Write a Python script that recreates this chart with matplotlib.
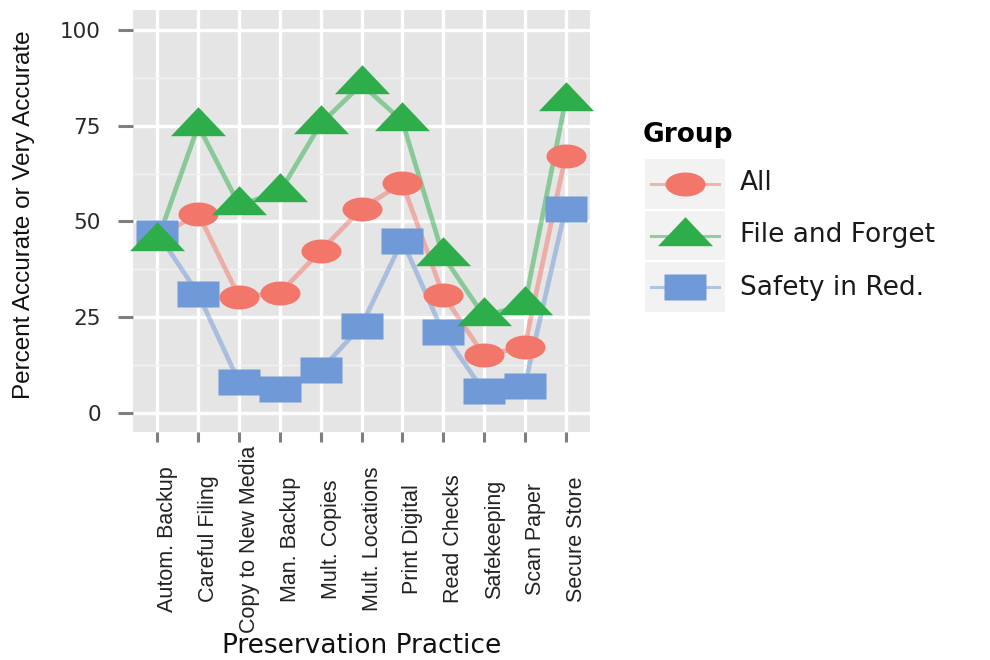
import numpy as np
import matplotlib
matplotlib.use("Agg")
import matplotlib.pyplot as plt
from matplotlib.patches import Rectangle

# Daten
practices = ["Autom. Backup", "Careful Filing", "Copy to New Media", "Man. Backup",
             "Mult. Copies", "Mult. Locations", "Print Digital", "Read Checks",
             "Safekeeping", "Scan Paper", "Secure Store"]
groups = ["All", "File and Forget", "Safety in Red."]
pct_all = [46, 52, 30.3, 31.3, 42.3, 53.3, 60, 30.8, 15, 17.3, 67]
pct_file_forget = [45, 75, 54.3, 57.7, 75.5, 85.8, 76.2, 41, 25.3, 28.2, 81.5]
pct_safety = [47, 31, 8, 6.3, 11.1, 22.8, 45, 21, 5.6, 7.1, 53.3]
y_ticks = [0, 25, 50, 75, 100]

colors = ["#F3766B", "#2EAD4B", "#6F99D7"]

# ggplot-artige Marker (im Original horizontal gestreckt)
t = np.linspace(0, 2 * np.pi, 60)
ellipse = np.c_[np.cos(t), 0.6 * np.sin(t)]
rect = [(-1, -0.6), (1, -0.6), (1, 0.6), (-1, 0.6), (-1, -0.6)]
tri = [(-27.5, -9.7), (27.5, -9.7), (0, 19.3), (-27.5, -9.7)]
markers = [ellipse, tri, rect]
msizes = [28.8, 39.6, 30.2]

series = [pct_all, pct_file_forget, pct_safety]

fig = plt.figure(figsize=(9.9, 6.6), dpi=100)
W, H = 990, 660
ax = fig.add_axes([133 / W, 1 - 432 / H, 457 / W, 422 / H])
ax.set_facecolor("#E5E5E5")
for s in ax.spines.values():
    s.set_visible(False)

x = np.arange(1, len(practices) + 1)

# Linien zuerst, dann Punkte (Reihenfolge: All, Safety, File)
for vals, c in zip(series, colors):
    ax.plot(x, vals, color=c, alpha=0.5, lw=3.4, zorder=3, solid_capstyle="butt")
for z, i in enumerate([0, 2, 1]):
    ax.plot(x, series[i], ls="none", marker=markers[i], ms=msizes[i],
            mfc=colors[i], mec="none", zorder=4 + z, clip_on=False)

ax.set_xlim(0.4, 11.6)
ax.set_ylim(-5, 105.2)
ax.set_yticks(y_ticks)
ax.set_yticks([12.5, 37.5, 62.5, 87.5], minor=True)
ax.set_xticks(x)
ax.set_xticklabels(practices, rotation=90, ha="left", va="center",
                   family="Liberation Sans", fontsize=15.5, color="#222222")
ax.grid(True, which="major", color="white", lw=2.4, zorder=1)
ax.grid(True, which="minor", axis="y", color="#F2F2F2", lw=1.0, zorder=1)
ax.set_axisbelow(True)

ax.tick_params(axis="x", length=7, width=2.2, color="#7F7F7F", pad=70)
ax.tick_params(axis="y", length=11, width=2.2, color="#7F7F7F", pad=12,
               labelsize=15.5, labelcolor="#2a2a2a")
ax.tick_params(axis="y", which="minor", length=0)
for lab in ax.get_yticklabels():
    lab.set_family("DejaVu Sans")

ax.set_ylabel("Percent Accurate or Very Accurate", family="Liberation Sans",
              fontsize=17.5, va="center", color="#111111")
ax.yaxis.set_label_coords((24 - 133) / 457, (432 - 215) / 422)
ax.set_xlabel("Preservation Practice", family="DejaVu Sans", fontsize=19,
              va="center", color="#111111")
ax.xaxis.set_label_coords(0.5, (432 - 646) / 422)

# Legende von Hand im ggplot-Stil
fig.text(643 / W, 1 - 135 / H, "Group", fontsize=19, fontweight="bold",
         family="DejaVu Sans", va="center", ha="left")
leg = fig.add_axes([645 / W, 1 - 313 / H, 80 / W, 155 / H])
leg.set_xlim(0, 1)
leg.set_ylim(0, 3)
leg.axis("off")
for i, name in enumerate(groups):
    yc = 2.5 - i
    leg.add_patch(Rectangle((0, yc - 0.48), 1, 0.96, facecolor="#F2F2F2", edgecolor="none"))
    leg.plot([0.07, 0.93], [yc, yc], color=colors[i], alpha=0.5, lw=2.2)
    leg.plot([0.5], [yc], ls="none", marker=markers[i], ms=msizes[i],
             mfc=colors[i], mec="none")
    fig.text(740 / W, 1 - (183 + 52.5 * i) / H, name, fontsize=19,
             family="DejaVu Sans", va="center", ha="left", color="#1a1a1a")

fig.savefig("out.png", dpi=100)
